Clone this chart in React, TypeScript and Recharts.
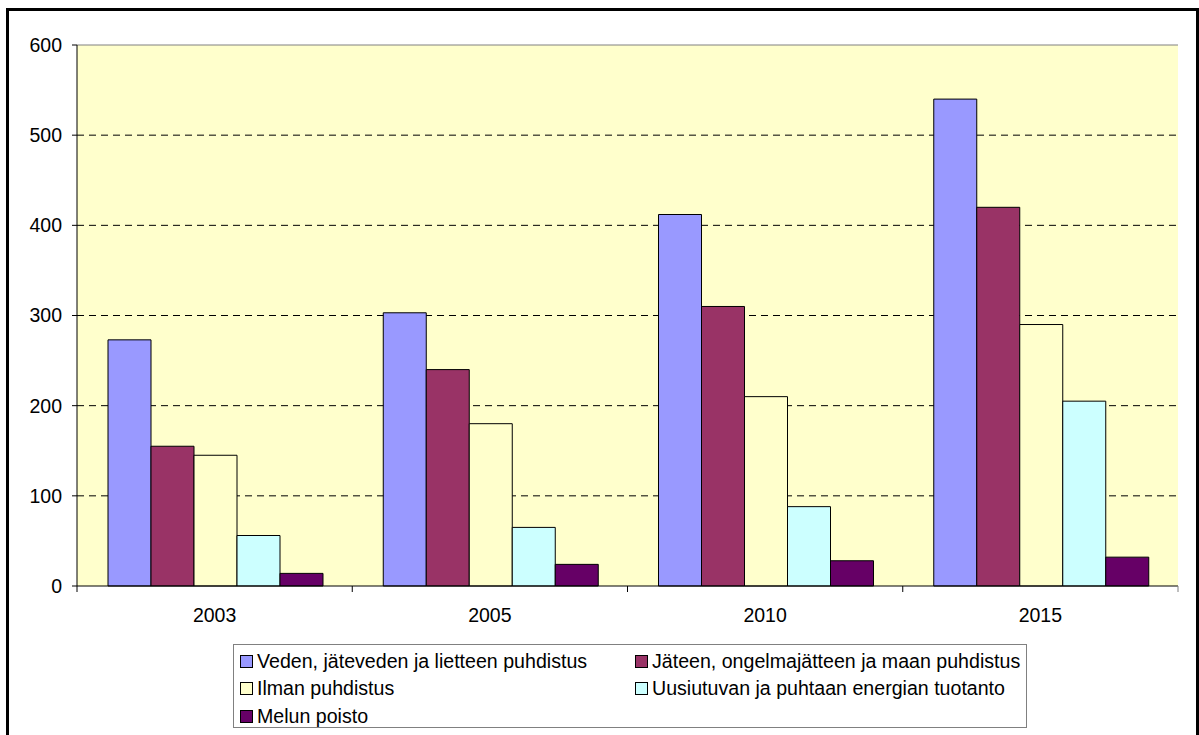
import React from 'react';
import { BarChart, Bar, XAxis, YAxis, CartesianGrid, ReferenceLine } from 'recharts';

const years = ['2003', '2005', '2010', '2015'];

const seriesNames = [
  'Veden, jäteveden ja lietteen puhdistus',
  'Jäteen, ongelmajätteen ja maan puhdistus',
  'Ilman puhdistus',
  'Uusiutuvan ja puhtaan energian tuotanto',
  'Melun poisto',
];

const vesi = [273, 303, 412, 540];
const jate = [155, 240, 310, 420];
const ilma = [145, 180, 210, 290];
const energia = [56, 65, 88, 205];
const melu = [14, 24, 28, 32];

const yTicks = [0, 100, 200, 300, 400, 500, 600];

const colors = ['#9999FF', '#993366', '#FFFFCC', '#CCFFFF', '#660066'];
const keys = ['vesi', 'jate', 'ilma', 'energia', 'melu'];

const data = years.map((year, i) => ({
  year,
  vesi: vesi[i],
  jate: jate[i],
  ilma: ilma[i],
  energia: energia[i],
  melu: melu[i],
}));

const FONT = 'Arial, "Liberation Sans", sans-serif';

// category labels centred, tick marks on the category boundaries (Excel style)
const YearTick = (props: any) => {
  const { x, y, payload, index, visibleTicksCount } = props;
  const off = payload.offset || 0;
  const axisY = y - 22;
  return (
    <g>
      <text x={x} y={y} dy="0.71em" textAnchor="middle" fontSize={19.5} fontFamily={FONT} fill="#000">
        {payload.value}
      </text>
      <line x1={x - off} x2={x - off} y1={axisY} y2={axisY + 6} stroke="#000" />
      {index === visibleTicksCount - 1 && (
        <line x1={x + off} x2={x + off} y1={axisY} y2={axisY + 6} stroke="#808080" />
      )}
    </g>
  );
};

const App: React.FC = () => {
  return (
    <div style={{ position: 'absolute', left: 0, top: 0, width: 1199, height: 735, background: '#fff', overflow: 'hidden' }}>
      <div
        style={{
          position: 'absolute',
          left: 6,
          top: 8,
          width: 1193,
          height: 740,
          border: '3px solid #000',
          boxSizing: 'border-box',
        }}
      />
      <div style={{ position: 'absolute', left: 0, top: 0 }}>
        <BarChart
          width={1199}
          height={735}
          data={data}
          margin={{ top: 45, right: 21, left: 0, bottom: 109 }}
          barCategoryGap={31}
          barGap={0}
        >
          <CartesianGrid
            vertical={false}
            fill="#FFFFCC"
            stroke="#000"
            strokeDasharray="7 5"
            horizontalValues={[100, 200, 300, 400, 500]}
          />
          <XAxis
            dataKey="year"
            height={40}
            tickSize={0}
            tickMargin={22}
            tickLine={false}
            axisLine={{ stroke: '#000' }}
            tick={<YearTick />}
            interval={0}
          />
          <YAxis
            width={77}
            domain={[0, 600]}
            ticks={yTicks}
            interval={0}
            axisLine={{ stroke: '#000' }}
            tickLine={{ stroke: '#000' }}
            tickSize={5}
            tickMargin={10}
            tick={{ fontSize: 19.5, fontFamily: FONT, fill: '#000' }}
          />
          <YAxis
            yAxisId="r"
            orientation="right"
            width={0}
            domain={[0, 600]}
            tick={false}
            tickLine={false}
            axisLine={{ stroke: '#808080' }}
          />
          <ReferenceLine y={600} stroke="#808080" />
          {keys.map((k, i) => (
            <Bar
              key={k}
              dataKey={k}
              name={seriesNames[i]}
              fill={colors[i]}
              stroke="#000"
              strokeWidth={1}
              isAnimationActive={false}
            />
          ))}
        </BarChart>
      </div>
      <div
        style={{
          position: 'absolute',
          left: 233,
          top: 644,
          width: 794,
          height: 84,
          border: '1px solid #808080',
          boxSizing: 'border-box',
          fontFamily: FONT,
          fontSize: 19.6,
          color: '#000',
        }}
      >
        {seriesNames.map((name, i) => (
          <div
            key={name}
            style={{
              position: 'absolute',
              left: i % 2 === 0 ? 6 : 401,
              top: 3 + Math.floor(i / 2) * 27.5,
              height: 26,
              display: 'flex',
              alignItems: 'center',
              whiteSpace: 'nowrap',
            }}
          >
            <span
              style={{
                display: 'inline-block',
                width: 11,
                height: 11,
                background: colors[i],
                border: '1px solid #000',
                marginRight: 4,
              }}
            />
            <span>{name}</span>
          </div>
        ))}
      </div>
    </div>
  );
};

export default App;
